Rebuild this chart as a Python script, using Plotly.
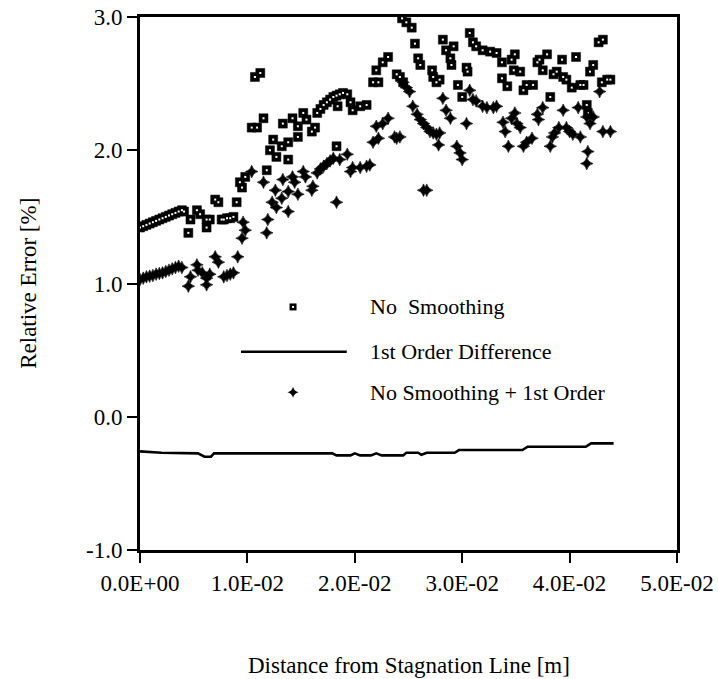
import plotly.graph_objects as go

# ---- Data: "No Smoothing" (squares) ----
sq_x = [0.0000, 0.0003, 0.0006, 0.0009, 0.0012, 0.0015, 0.0018, 0.0021, 0.0024, 0.0027,
        0.0030, 0.0033, 0.0036, 0.0039, 0.0041, 0.0045, 0.0047, 0.0053, 0.0056, 0.0062,
        0.0062, 0.0065, 0.0070, 0.0073, 0.0076, 0.0078, 0.0081, 0.0084, 0.0087, 0.0090,
        0.0093, 0.0095, 0.0098, 0.0107, 0.0112, 0.0104, 0.0109, 0.0115, 0.0118, 0.0121,
        0.0124, 0.0127, 0.0132, 0.0133, 0.0138, 0.0138, 0.0142, 0.0147, 0.0147, 0.0152,
        0.0155, 0.0160, 0.0163, 0.0165, 0.0168, 0.0171, 0.0174, 0.0177, 0.0180, 0.0183,
        0.0186, 0.0189, 0.0184, 0.0183, 0.0193, 0.0196, 0.0198, 0.0205, 0.0211, 0.0217,
        0.0222, 0.0220, 0.0226, 0.0231, 0.0239, 0.0242, 0.0245, 0.0244, 0.0248, 0.0253,
        0.0256, 0.0259, 0.0261, 0.0272, 0.0273, 0.0276, 0.0279, 0.0282, 0.0285, 0.0289,
        0.0290, 0.0292, 0.0296, 0.0300, 0.0304, 0.0305, 0.0307, 0.0310, 0.0313, 0.0319,
        0.0326, 0.0332, 0.0337, 0.0337, 0.0342, 0.0346, 0.0349, 0.0348, 0.0354, 0.0357,
        0.0360, 0.0366, 0.0370, 0.0372, 0.0375, 0.0379, 0.0382, 0.0385, 0.0388, 0.0393,
        0.0394, 0.0397, 0.0402, 0.0406, 0.0410, 0.0413, 0.0416, 0.0417, 0.0422, 0.0419,
        0.0427, 0.0431, 0.0430, 0.0435, 0.0438]
sq_y = [1.42, 1.43, 1.44, 1.45, 1.46, 1.47, 1.48, 1.49, 1.50, 1.51,
        1.52, 1.53, 1.54, 1.55, 1.54, 1.38, 1.48, 1.55, 1.52, 1.48,
        1.42, 1.48, 1.63, 1.61, 1.48, 1.48, 1.49, 1.49, 1.50, 1.61,
        1.76, 1.72, 1.80, 2.55, 2.58, 2.17, 2.17, 2.24, 1.85, 2.00,
        2.08, 1.95, 2.03, 2.20, 1.93, 2.06, 2.24, 2.10, 2.18, 2.28,
        2.23, 2.14, 2.17, 2.28, 2.31, 2.34, 2.36, 2.38, 2.40, 2.41,
        2.42, 2.43, 2.33, 2.03, 2.42, 2.36, 2.30, 2.33, 2.34, 2.51,
        2.51, 2.60, 2.66, 2.70, 2.57, 2.55, 2.51, 2.99, 2.96, 2.92,
        2.80, 2.69, 2.64, 2.60, 2.55, 2.51, 2.53, 2.83, 2.75, 2.69,
        2.64, 2.78, 2.49, 2.40, 2.62, 2.59, 2.88, 2.81, 2.78, 2.75,
        2.74, 2.73, 2.66, 2.54, 2.48, 2.68, 2.72, 2.60, 2.59, 2.45,
        2.49, 2.49, 2.66, 2.68, 2.60, 2.72, 2.40, 2.57, 2.59, 2.68,
        2.55, 2.53, 2.47, 2.70, 2.49, 2.49, 2.34, 2.28, 2.64, 2.59,
        2.81, 2.83, 2.51, 2.53, 2.53]

# ---- Data: "No Smoothing + 1st Order" (plus markers) ----
pl_x = [0.0000, 0.0003, 0.0006, 0.0009, 0.0012, 0.0015, 0.0018, 0.0021, 0.0024, 0.0027,
        0.0030, 0.0033, 0.0036, 0.0039, 0.0047, 0.0045, 0.0053, 0.0054, 0.0058, 0.0062,
        0.0062, 0.0065, 0.0070, 0.0073, 0.0078, 0.0081, 0.0084, 0.0087, 0.0091, 0.0095,
        0.0098, 0.0096, 0.0104, 0.0115, 0.0118, 0.0119, 0.0123, 0.0126, 0.0127, 0.0132,
        0.0133, 0.0138, 0.0138, 0.0142, 0.0144, 0.0147, 0.0152, 0.0154, 0.0160, 0.0161,
        0.0165, 0.0168, 0.0171, 0.0174, 0.0177, 0.0180, 0.0183, 0.0186, 0.0193, 0.0196,
        0.0198, 0.0205, 0.0211, 0.0214, 0.0217, 0.0222, 0.0220, 0.0226, 0.0231, 0.0239,
        0.0242, 0.0237, 0.0245, 0.0248, 0.0251, 0.0254, 0.0258, 0.0261, 0.0264, 0.0267,
        0.0270, 0.0273, 0.0276, 0.0279, 0.0278, 0.0264, 0.0267, 0.0282, 0.0285, 0.0289,
        0.0295, 0.0298, 0.0300, 0.0304, 0.0307, 0.0310, 0.0313, 0.0319, 0.0323, 0.0329,
        0.0332, 0.0338, 0.0340, 0.0343, 0.0346, 0.0349, 0.0351, 0.0354, 0.0357, 0.0360,
        0.0365, 0.0370, 0.0371, 0.0375, 0.0382, 0.0384, 0.0386, 0.0390, 0.0394, 0.0397,
        0.0400, 0.0403, 0.0408, 0.0410, 0.0416, 0.0419, 0.0422, 0.0417, 0.0416, 0.0428,
        0.0431, 0.0438]
pl_y = [1.03, 1.04, 1.05, 1.055, 1.06, 1.07, 1.075, 1.08, 1.09, 1.10,
        1.11, 1.12, 1.13, 1.12, 1.05, 0.98, 1.14, 1.10, 1.08, 1.04,
        0.99, 1.07, 1.20, 1.16, 1.05, 1.06, 1.07, 1.08, 1.20, 1.34,
        1.40, 1.46, 1.84, 1.76, 1.38, 1.48, 1.61, 1.70, 1.57, 1.64,
        1.78, 1.54, 1.69, 1.80, 1.76, 1.67, 1.84, 1.80, 1.70, 1.73,
        1.83, 1.86, 1.88, 1.90, 1.92, 1.94, 1.61, 1.93, 1.97, 1.84,
        1.87, 1.87, 1.88, 1.89, 2.06, 2.09, 2.18, 2.20, 2.24, 2.09,
        2.10, 2.10, 2.51, 2.47, 2.44, 2.33, 2.27, 2.23, 2.20, 2.17,
        2.14, 2.13, 2.12, 2.13, 2.04, 1.70, 1.70, 2.39, 2.30, 2.24,
        2.03, 1.98, 1.93, 2.20, 2.45, 2.38, 2.37, 2.33, 2.32, 2.32,
        2.33, 2.21, 2.14, 2.03, 2.24, 2.28, 2.20, 2.17, 2.03, 2.06,
        2.09, 2.27, 2.23, 2.32, 2.03, 2.10, 2.13, 2.17, 2.30, 2.17,
        2.14, 2.12, 2.32, 2.10, 2.25, 2.20, 2.25, 1.99, 1.90, 2.44,
        2.14, 2.14]

# ---- Data: "1st Order Difference" (line) ----
ln_x = [0.0000, 0.0020, 0.0054, 0.0060, 0.0066, 0.0069, 0.0179, 0.0183, 0.0196, 0.0200,
        0.0205, 0.0215, 0.0220, 0.0225, 0.0245, 0.0248, 0.0259, 0.0262, 0.0267, 0.0293,
        0.0297, 0.0356, 0.0361, 0.0415, 0.0420, 0.0441]
ln_y = [-0.26, -0.27, -0.275, -0.30, -0.30, -0.275, -0.275, -0.29, -0.29, -0.275,
        -0.29, -0.29, -0.275, -0.29, -0.29, -0.27, -0.27, -0.285, -0.27, -0.27,
        -0.25, -0.25, -0.225, -0.225, -0.20, -0.20]

# ---- Axis ticks ----
x_tickvals = [0.0, 0.01, 0.02, 0.03, 0.04, 0.05]
x_ticktext = ["0.0E+00", "1.0E-02", "2.0E-02", "3.0E-02", "4.0E-02", "5.0E-02"]
y_tickvals = [-1.0, 0.0, 1.0, 2.0, 3.0]
y_ticktext = ["-1.0", "0.0", "1.0", "2.0", "3.0"]
x_title = "Distance from Stagnation Line [m]"
y_title = "Relative Error [%]"

# ---- Legend keys (fractions of the plot area) ----
legend_labels = ["No  Smoothing", "1st Order Difference", "No Smoothing + 1st Order"]
legend_rows = [0.456, 0.372, 0.296]
legend_sym_x = 0.285
legend_line_x = [0.188, 0.385]
legend_text_x = 0.425

FONT = "Liberation Serif"
BLACK = "#000000"
WHITE = "#ffffff"

sq_marker = dict(symbol="square", size=9, color=BLACK, line=dict(width=0.5, color=BLACK))
sq_dot = dict(symbol="square", size=2, color=WHITE, line=dict(width=0))
pl_marker = dict(symbol="star-diamond", size=9, color=BLACK, line=dict(width=0.6, color=BLACK))

fig = go.Figure()
fig.add_trace(go.Scatter(x=sq_x, y=sq_y, mode="markers", marker=sq_marker,
                         name=legend_labels[0], showlegend=False))
fig.add_trace(go.Scatter(x=sq_x, y=sq_y, mode="markers", marker=sq_dot,
                         showlegend=False, hoverinfo="skip"))
fig.add_trace(go.Scatter(x=ln_x, y=ln_y, mode="lines", line=dict(color=BLACK, width=2.6),
                         name=legend_labels[1], showlegend=False))
fig.add_trace(go.Scatter(x=pl_x, y=pl_y, mode="markers", marker=pl_marker,
                         name=legend_labels[2], showlegend=False))

# legend keys on an overlay axis spanning the plot area
fig.add_trace(go.Scatter(x=[legend_sym_x], y=[legend_rows[0]], mode="markers",
                         marker=dict(symbol="square", size=7, color=BLACK),
                         xaxis="x2", yaxis="y2", showlegend=False, hoverinfo="skip"))
fig.add_trace(go.Scatter(x=[legend_sym_x], y=[legend_rows[0]], mode="markers",
                         marker=dict(symbol="square", size=2, color=WHITE),
                         xaxis="x2", yaxis="y2", showlegend=False, hoverinfo="skip"))
fig.add_trace(go.Scatter(x=legend_line_x, y=[legend_rows[1]] * 2, mode="lines",
                         line=dict(color=BLACK, width=2.6),
                         xaxis="x2", yaxis="y2", showlegend=False, hoverinfo="skip"))
fig.add_trace(go.Scatter(x=[legend_sym_x], y=[legend_rows[2]], mode="markers",
                         marker=dict(symbol="star-diamond", size=8, color=BLACK),
                         xaxis="x2", yaxis="y2", showlegend=False, hoverinfo="skip"))
for lab, ry in zip(legend_labels, legend_rows):
    fig.add_annotation(x=legend_text_x, y=ry, xref="x2", yref="y2", text=lab,
                       showarrow=False, xanchor="left", yanchor="middle",
                       font=dict(family=FONT, size=22, color=BLACK))

# axis titles
fig.add_annotation(x=0.5, y=-0.216, xref="paper", yref="paper", text=x_title,
                   showarrow=False, xanchor="center", yanchor="middle",
                   font=dict(family=FONT, size=23, color=BLACK))
fig.add_annotation(x=-0.208, y=0.5, xref="paper", yref="paper", text=y_title,
                   showarrow=False, xanchor="center", yanchor="middle", textangle=-90,
                   font=dict(family=FONT, size=23, color=BLACK))

axis_common = dict(showline=True, linecolor=BLACK, linewidth=2.8, mirror=True,
                   ticks="outside", ticklen=10, tickwidth=2.2, tickcolor=BLACK,
                   showgrid=False, zeroline=False, automargin=False,
                   tickfont=dict(family=FONT, size=23, color=BLACK))

fig.update_layout(
    width=718, height=679,
    margin=dict(l=140, r=41, t=17, b=129, autoexpand=False),
    paper_bgcolor="white", plot_bgcolor="white",
    font=dict(family=FONT, size=22, color=BLACK),
    xaxis=dict(range=[0, 0.05], tickvals=x_tickvals, ticktext=x_ticktext, **axis_common),
    yaxis=dict(range=[-1.0, 3.0], tickvals=y_tickvals, ticktext=y_ticktext, **axis_common),
    xaxis2=dict(range=[0, 1], overlaying="x", visible=False, fixedrange=True),
    yaxis2=dict(range=[0, 1], overlaying="y", visible=False, fixedrange=True),
    showlegend=False,
)

fig.write_html("out.html")
